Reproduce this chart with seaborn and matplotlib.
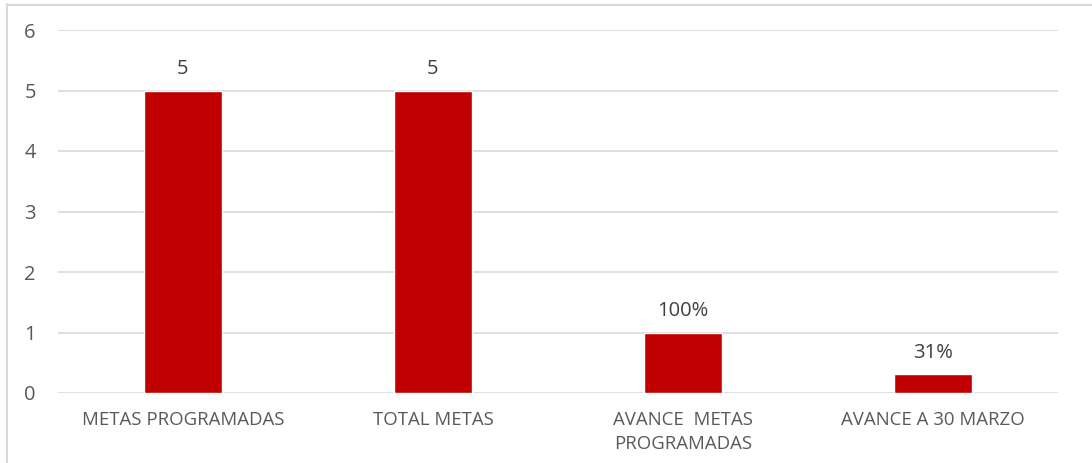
import matplotlib
matplotlib.use("Agg")
import matplotlib.pyplot as plt
from matplotlib.lines import Line2D
import seaborn as sns
import pandas as pd

categories = ["METAS PROGRAMADAS", "TOTAL METAS", "AVANCE  METAS\nPROGRAMADAS", "AVANCE A 30 MARZO"]
values = [5, 5, 1, 0.31]
value_labels = ["5", "5", "100%", "31%"]
y_ticks = [0, 1, 2, 3, 4, 5, 6]

sns.set_theme(style="white")
plt.rcParams['font.family'] = ['Open Sans', 'DejaVu Sans']

W, H = 1092, 463
fig = plt.figure(figsize=(W / 100, H / 100), dpi=100)
ax = fig.add_axes([58 / W, (H - 393) / H, 1000 / W, (393 - 30) / H])

df = pd.DataFrame({"cat": categories, "val": values})
sns.barplot(data=df, x="cat", y="val", color="#C00000", saturation=1, width=0.31, ax=ax, zorder=3)

ax.set_ylim(0, 6)
ax.set_yticks(y_ticks)
ax.yaxis.grid(True, color="#d9d9d9", linewidth=1.2, zorder=0)
ax.set_axisbelow(True)
for s in ax.spines.values():
    s.set_visible(False)
ax.set_xlabel("")
ax.set_ylabel("")
ax.tick_params(axis="y", length=0, pad=16, labelsize=14.5, labelcolor="#595959")
ax.tick_params(axis="x", length=0, pad=13, labelsize=13.4, labelcolor="#595959")
for t in ax.get_xticklabels():
    t.set_linespacing(1.4)

ax.bar_label(ax.containers[0], labels=value_labels, padding=8, fontsize=14.5, color="#404040")

fig.add_artist(Line2D([6.5 / W, 6.5 / W], [0, 1 - 4 / H], color="#d9d9d9", linewidth=1.5, transform=fig.transFigure))
fig.add_artist(Line2D([6.5 / W, 1], [1 - 4.5 / H, 1 - 4.5 / H], color="#d9d9d9", linewidth=1.5, transform=fig.transFigure))

fig.savefig("out.png", dpi=100)
